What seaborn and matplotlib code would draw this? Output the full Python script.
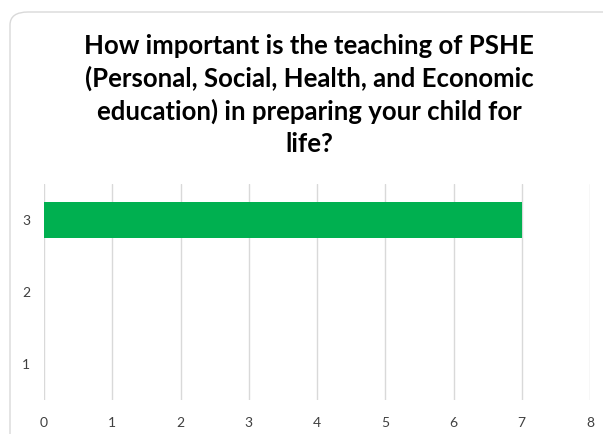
import matplotlib
matplotlib.use("Agg")
import matplotlib.pyplot as plt
from matplotlib.patches import FancyBboxPatch
import seaborn as sns
import pandas as pd

categories = ["3", "2", "1"]
values = [7, 0, 0]
x_ticks = [0, 1, 2, 3, 4, 5, 6, 7, 8]
title = ("How important is the teaching of PSHE\n(Personal, Social, Health, and Economic\n"
         "education) in preparing your child for\nlife?")

sns.set_theme(style="white")
plt.rcParams['font.family'] = ['Lato', 'DejaVu Sans']

df = pd.DataFrame({"cat": categories, "val": values})

fig = plt.figure(figsize=(6.03, 4.34), dpi=100)
frame = FancyBboxPatch((10/603, -0.1), 1.2, 1 - 12/434 + 0.1,
                       boxstyle="round,pad=0,rounding_size=0.03",
                       transform=fig.transFigure, facecolor="white",
                       edgecolor="#D9D9D9", linewidth=1.0, zorder=-10)
fig.patches.append(frame)

ax = fig.add_axes([44/603, 1 - 400/434, (590 - 44)/603, (400 - 184)/434])
ax.set_facecolor("none")
sns.barplot(data=df, x="val", y="cat", order=categories, orient="h",
            color="#00B050", width=0.51, ax=ax, saturation=1, linewidth=0)
ax.set_xlim(0, 8)
ax.set_ylim(2.5, -0.5)
ax.set_xticks(x_ticks)
ax.set_xticklabels([str(t) for t in x_ticks])
ax.grid(axis="x", color="#D9D9D9", linewidth=1)
ax.set_axisbelow(True)
for s in ax.spines.values():
    s.set_visible(False)
ax.tick_params(axis="both", length=0, labelsize=10, labelcolor="#404040")
ax.tick_params(axis="x", pad=12)
ax.tick_params(axis="y", pad=10)
ax.set_xlabel("")
ax.set_ylabel("")

fig.text(309/603, 1 - 95/434, title, ha="center", va="center",
         fontsize=18.5, fontweight="bold", color="#000000", linespacing=1.36)

fig.savefig("out.png", dpi=100)
